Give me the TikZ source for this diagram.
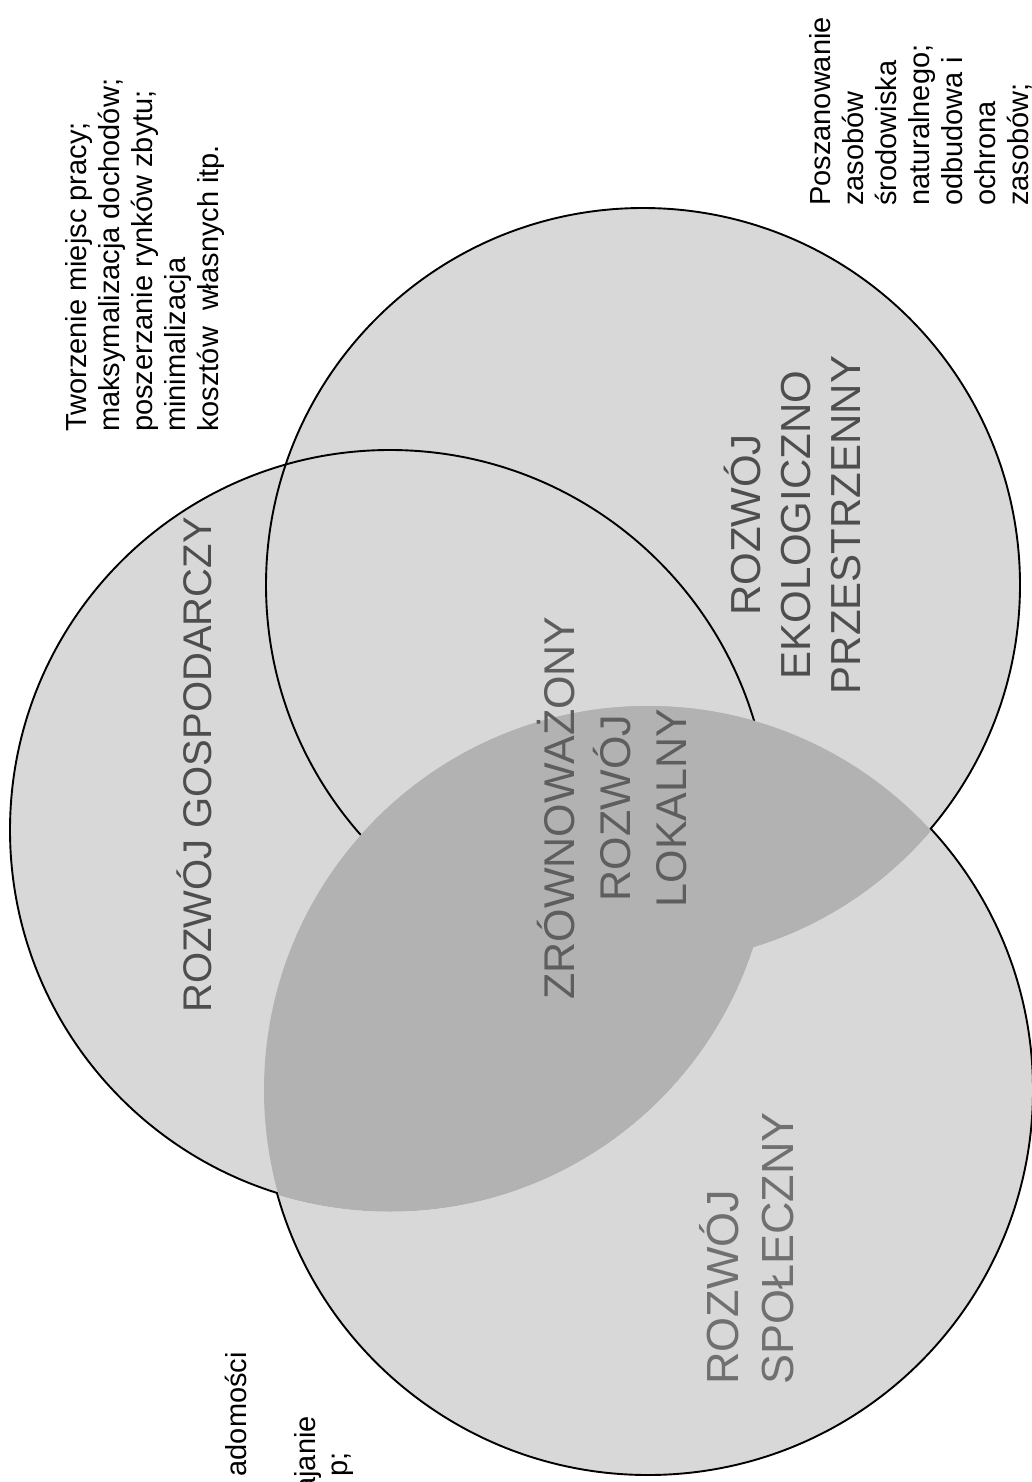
\documentclass[tikz,border=0pt]{standalone}
\usepackage{fontspec}
\setmainfont{Liberation Sans}
\definecolor{lightfill}{HTML}{D8D8D8}
\definecolor{midfill}{HTML}{B2B2B2}
\definecolor{labgray}{HTML}{4E4E4E}
\definecolor{centgray}{HTML}{5E5E5E}
\definecolor{solgray}{HTML}{707070}
\begin{document}
\begin{tikzpicture}[x=1pt,y=-1pt,
  outline/.style={draw=black,line width=1.9pt},
  biglabel/.style={rotate=90,align=center,inner sep=0pt},
  desc/.style={rotate=90,align=left,inner sep=0pt,anchor=west,font=\fontsize{29}{33}\selectfont}]
\useasboundingbox (0,0) rectangle (1032,1482);
\coordinate (cG) at (390,830);
\coordinate (cS) at (648,1090);
\coordinate (cE) at (643,585);
% base fills
\fill[lightfill] (cS) circle[radius=385pt];
\draw[outline] (cS) circle[radius=385pt];
\fill[lightfill] (cG) circle[radius=380pt];
\fill[lightfill] (cE) circle[radius=377pt];
\draw[outline] (cG) circle[radius=380pt];
\draw[outline] (cE) circle[radius=377pt];
% overlaps with the social circle
\begin{scope}
  \clip (cS) circle[radius=384pt];
  \fill[midfill] (cG) circle[radius=381.5pt];
  \fill[midfill] (cE) circle[radius=378.5pt];
\end{scope}
% labels
\node[biglabel,text=labgray,font=\fontsize{40}{48}\selectfont] (lg) at (194,765) {ROZWÓJ GOSPODARCZY};
\node[biglabel,text=centgray,font=\fontsize{43}{56}\selectfont] (lc) at (612,808) {ZRÓWNOWAŻONY\\ROZWÓJ\\LOKALNY};
\node[biglabel,text=labgray,font=\fontsize{42}{50}\selectfont] (le) at (792,525) {ROZWÓJ\\EKOLOGICZNO\\PRZESTRZENNY};
\node[biglabel,text=solgray,align=left,anchor=west,font=\fontsize{45}{55}\selectfont] (ls) at (747,1385) {ROZWÓJ\\SPOŁECZNY};
% descriptions
\node[desc] (dg) at (145,432) {Tworzenie miejsc pracy;\\maksymalizacja dochodów;\\poszerzanie rynków zbytu;\\minimalizacja\\kosztów\ \ własnych itp.};
\node[desc] (de) at (921,206) {Poszanowanie\\zasobów\\środowiska\\naturalnego;\\odbudowa i\\ochrona\\zasobów;};
\node[desc,anchor=east] (ds1) at (236,1352) {adomości};
\node[desc,anchor=east] (ds2) at (308,1416) {ajanie};
\node[desc,anchor=east] (ds3) at (343,1452) {p;};
\end{tikzpicture}
\end{document}
